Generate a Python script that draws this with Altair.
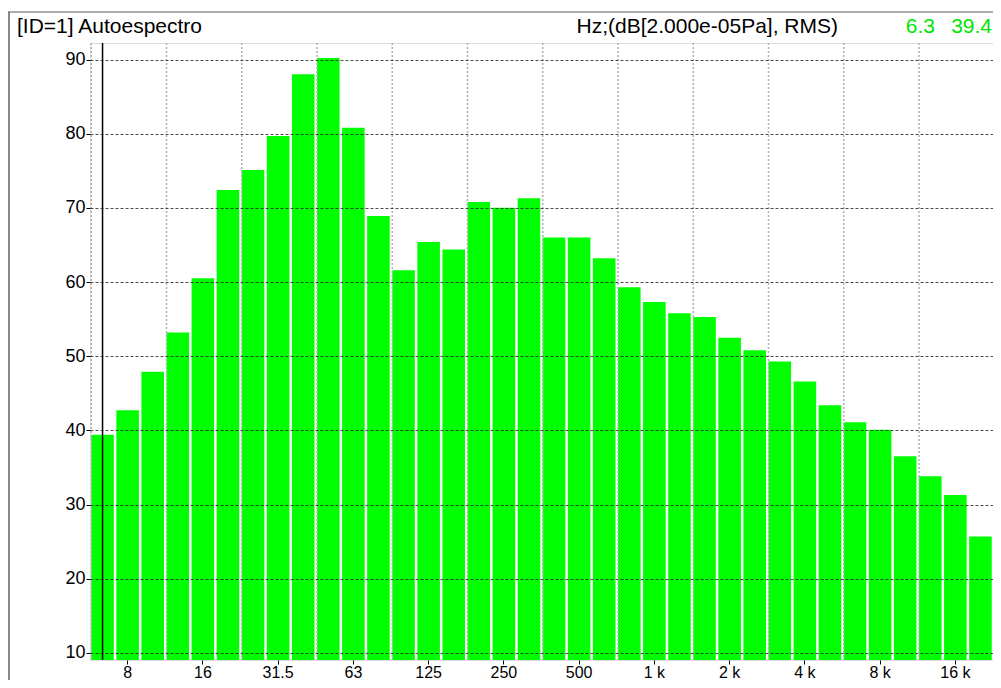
import altair as alt
import pandas as pd

# Third-octave band centre frequencies (labels) and levels in dB
freqs = ["6.3", "8", "10", "12.5", "16", "20", "25", "31.5", "40", "50",
         "63", "80", "100", "125", "160", "200", "250", "315", "400", "500",
         "630", "800", "1 k", "1.25 k", "1.6 k", "2 k", "2.5 k", "3.15 k", "4 k", "5 k",
         "6.3 k", "8 k", "10 k", "12.5 k", "16 k", "20 k"]
levels = [39.4, 42.7, 47.9, 53.2, 60.5, 72.4, 75.1, 79.7, 88.0, 90.2,
          80.8, 68.9, 61.6, 65.4, 64.4, 70.8, 70.0, 71.3, 66.0, 66.0,
          63.2, 59.3, 57.3, 55.8, 55.3, 52.5, 50.8, 49.3, 46.6, 43.4,
          41.1, 40.1, 36.5, 33.8, 31.3, 25.7]

x_label_values = ["8", "16", "31.5", "63", "125", "250", "500", "1 k", "2 k", "4 k", "8 k", "16 k"]
x_grid_bands = ["6.3", "12.5", "25", "50", "100", "200", "400", "800", "1.6 k", "3.15 k", "6.3 k", "12.5 k"]
y_tick_values = [10, 20, 30, 40, 50, 60, 70, 80, 90]
y_domain = [9.04, 92.23]

cursor_freq = ["6.3"]
header_left = ["[ID=1] Autoespectro"]
header_units = ["Hz;(dB[2.000e-05Pa], RMS)"]
header_cursor_f = ["6.3"]
header_cursor_v = ["39.4"]

W, H = 903, 617
FONT = "Liberation Sans"

df = pd.DataFrame({"freq": freqs, "level": levels})

xscale = alt.Scale(domain=freqs, paddingInner=0.1, paddingOuter=0.05)
yscale = alt.Scale(domain=y_domain, nice=False, zero=False)

bars = alt.Chart(df).mark_bar(color="#00ff00", clip=True).encode(
    x=alt.X("freq:N", scale=xscale, sort=freqs,
            axis=alt.Axis(values=x_label_values, title=None, grid=False, domain=False,
                          tickSize=4, tickColor="black", labelPadding=0,
                          labelFontSize=16, labelFont=FONT, labelColor="black",
                          labelAngle=0)),
    y=alt.Y("level:Q", scale=yscale,
            axis=alt.Axis(values=y_tick_values, title=None, grid=True,
                          gridColor="#202020", gridDash=[3, 2], gridWidth=1, gridOpacity=0.8,
                          domain=False, tickSize=4, tickColor="black", labelPadding=1,
                          labelFontSize=18, labelFont=FONT, labelColor="black", zindex=1)),
)

vgrid = alt.Chart(pd.DataFrame({"freq": x_grid_bands})).mark_rule(
    color="#b0b0b0", strokeDash=[2, 2], strokeWidth=1.5
).encode(
    x=alt.X("freq:N", bandPosition=0, scale=xscale, sort=freqs),
    y=alt.value(0), y2=alt.value(H),
)

cursor = alt.Chart(pd.DataFrame({"freq": cursor_freq})).mark_rule(
    color="black", strokeWidth=1.5
).encode(
    x=alt.X("freq:N", scale=xscale, sort=freqs),
    y=alt.value(0), y2=alt.value(H),
)

def header(values, xpos, align, color):
    return alt.Chart(pd.DataFrame({"t": values})).mark_text(
        align=align, baseline="middle", font=FONT, fontSize=21, color=color
    ).encode(x=alt.value(xpos), y=alt.value(-16), text="t:N")

frame_top = alt.Chart(pd.DataFrame({"t": header_left})).mark_rule(
    color="#909090", strokeWidth=1.5
).encode(x=alt.value(-82), x2=alt.value(W), y=alt.value(-31))
frame_left = alt.Chart(pd.DataFrame({"t": header_left})).mark_rule(
    color="#606060", strokeWidth=1.5
).encode(x=alt.value(-81), y=alt.value(-31), y2=alt.value(H + 40))

chart = alt.layer(
    bars, vgrid, cursor,
    header(header_left, -73, "left", "black"),
    header(header_units, 748, "right", "black"),
    header(header_cursor_f, 845, "right", "#00e600"),
    header(header_cursor_v, W - 1, "right", "#00e600"),
    frame_top, frame_left,
).properties(
    width=W, height=H,
    autosize=alt.AutoSizeParams(type="none"),
    padding={"left": 82, "top": 35, "right": 0, "bottom": 20},
).configure_view(
    stroke="black", strokeWidth=1.5
).configure(background="white")

chart.save("out.html", embed_options={"renderer": "svg", "actions": False})
